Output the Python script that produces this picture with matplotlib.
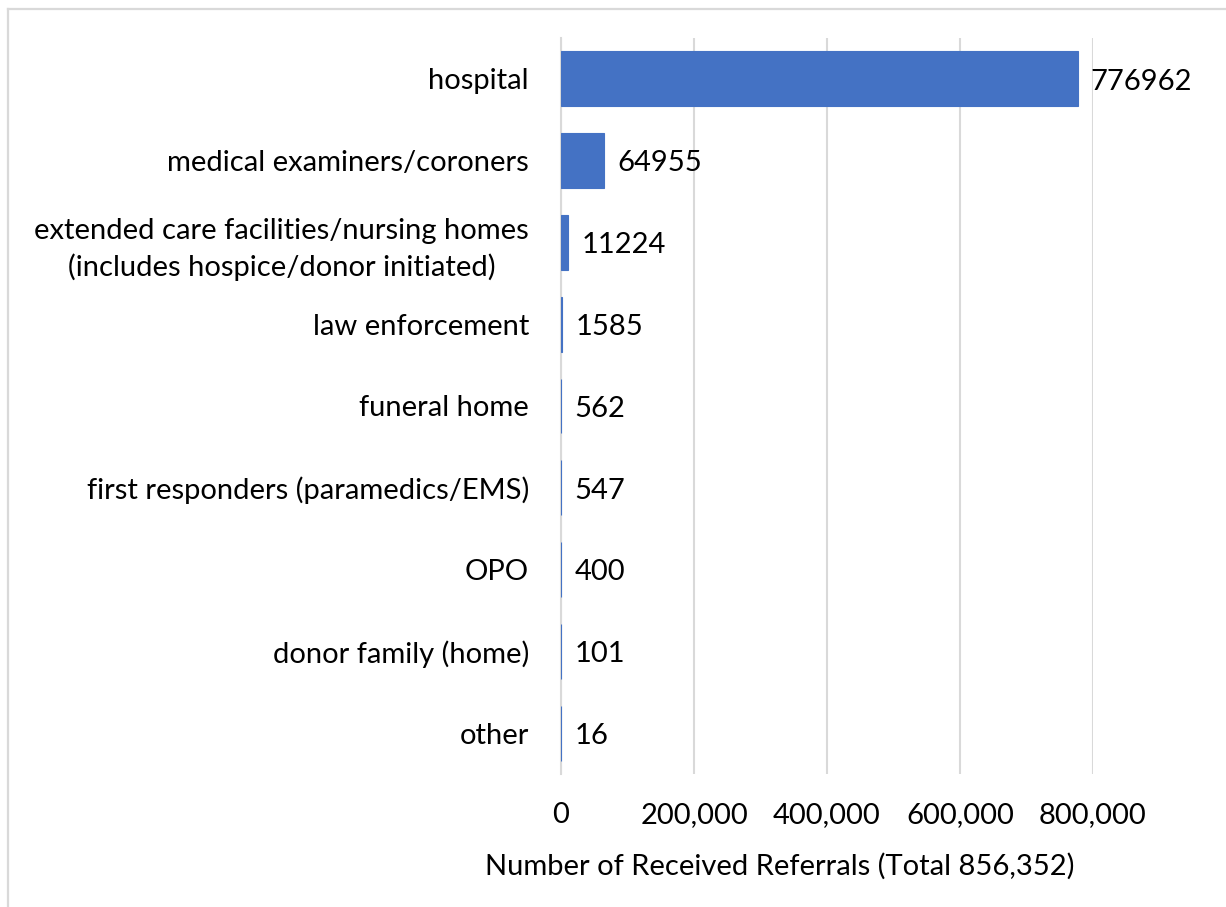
import matplotlib
matplotlib.use("Agg")
from matplotlib import pyplot as plt
from matplotlib.lines import Line2D
from matplotlib.ticker import FuncFormatter

plt.rcParams['font.family'] = ['Lato', 'DejaVu Sans']

categories = ["hospital",
              "medical examiners/coroners",
              "extended care facilities/nursing homes\n(includes hospice/donor initiated)",
              "law enforcement",
              "funeral home",
              "first responders (paramedics/EMS)",
              "OPO",
              "donor family (home)",
              "other"]
referrals = [776962, 64955, 11224, 1585, 562, 547, 400, 101, 16]
x_ticks = [0, 200000, 400000, 600000, 800000]
x_title = "Number of Received Referrals (Total 856,352)"

FS = 21
W, H = 1226, 907
fig = plt.figure(figsize=(W / 100, H / 100), dpi=100)
ax = fig.add_axes([561 / W, 1 - 774 / H, (1093 - 561) / W, (774 - 38) / H])

pos = list(range(len(categories)))
ax.barh(pos, referrals, height=0.67, color="#4472C4",
        edgecolor="#4472C4", linewidth=0.8, zorder=3)
ax.set_ylim(len(categories) - 0.5, -0.5)
ax.set_xlim(0, 800000)

for p, v in zip(pos, referrals):
    ax.annotate(str(v), (v, p), xytext=(9.5, -2), textcoords="offset points",
                va="center", ha="left", fontsize=FS, color="#000000")

ax.set_xticks(x_ticks)
ax.xaxis.set_major_formatter(FuncFormatter(lambda v, _: f"{int(v):,}"))
ax.set_yticks(pos)
ax.set_yticklabels(categories, ha="center", multialignment="center",
                   linespacing=1.4)
ax.tick_params(axis="y", length=0, pad=0, labelsize=FS)
ax.tick_params(axis="x", length=0, pad=20, labelsize=FS)
# center the y labels on their own width so multi-line text stays centered
fig.canvas.draw()
renderer = fig.canvas.get_renderer()
for lab in ax.get_yticklabels():
    bb = lab.get_window_extent(renderer)
    x_right = 529
    lab.set_x(-(561 - (x_right - bb.width / 2)) / (1093 - 561))

ax.grid(axis="x", color="#d9d9d9", linewidth=1.5, zorder=0)
for s in ["top", "right", "bottom"]:
    ax.spines[s].set_visible(False)
ax.spines["left"].set_color("#d9d9d9")
ax.spines["left"].set_linewidth(1.5)
ax.spines["left"].set_zorder(1)

fig.text(780 / W, 1 - 866 / H, x_title, ha="center", va="center", fontsize=FS)

fig.add_artist(Line2D([8 / W, 8 / W], [0, 1 - 9 / H], color="#d9d9d9", lw=1.6))
fig.add_artist(Line2D([8 / W, 1], [1 - 9 / H, 1 - 9 / H], color="#d9d9d9", lw=1.6))

fig.savefig("out.png", dpi=100)
